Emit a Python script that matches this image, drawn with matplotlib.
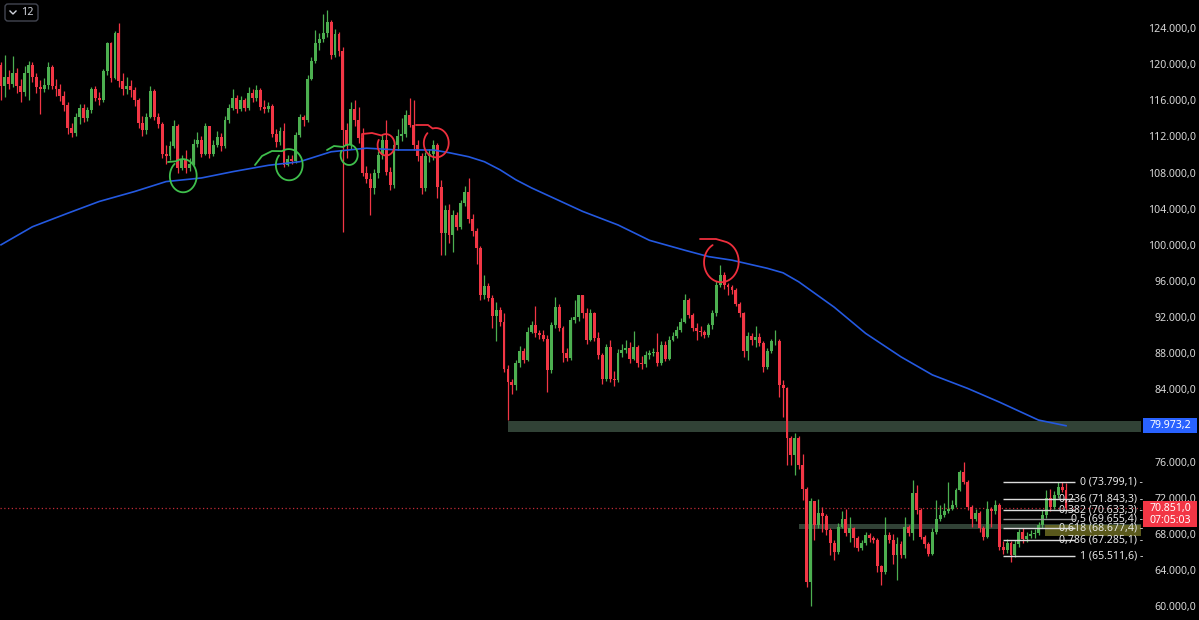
import matplotlib
matplotlib.use("Agg")
import matplotlib.pyplot as plt
from matplotlib import transforms
from matplotlib.patches import Rectangle, FancyBboxPatch
import numpy as np

# ---------------- data (prices in thousands USD, daily candles) ----------------
first_open = 119.9
closes = [
    117.6, 118.6, 117.8, 119.0, 117.6, 116.9, 119.0, 119.9, 118.6, 117.5,
    117.3, 117.7, 119.7, 117.6, 117.3, 116.5, 115.5, 112.9, 112.4, 114.2,
    115.2, 114.0, 114.9, 117.3, 116.3, 116.0, 119.2, 122.3, 118.5, 123.4,
    118.1, 117.2, 117.6, 117.1, 116.0, 113.5, 112.7, 114.2, 117.0, 114.2,
    113.4, 110.0, 109.8, 110.9, 113.2, 108.5, 109.4, 108.5, 109.0, 111.2,
    111.6, 110.1, 113.1, 110.0, 111.1, 111.9, 110.9, 113.8, 115.1, 116.2,
    115.0, 116.0, 115.1, 116.8, 116.2, 117.1, 115.3, 115.0, 115.4, 112.3,
    111.4, 112.6, 108.8, 109.5, 109.3, 112.2, 114.1, 113.8, 118.4, 120.4,
    122.3, 122.8, 123.4, 124.7, 121.0, 123.3, 121.4, 112.7, 111.0, 115.0,
    113.8, 111.8, 108.0, 107.3, 106.3, 107.9, 109.9, 111.6, 108.1, 106.6,
    111.0, 112.0, 112.3, 114.4, 113.3, 111.0, 109.8, 106.3, 109.8, 110.1,
    111.0, 106.4, 101.3, 103.9, 101.1, 103.3, 102.0, 104.6, 105.9, 102.9,
    101.5, 99.6, 94.4, 95.4, 94.1, 92.1, 92.8, 91.5, 86.3, 84.8,
    84.5, 86.9, 88.2, 87.3, 90.4, 91.1, 90.2, 90.0, 89.6, 86.1,
    91.1, 93.1, 90.8, 88.0, 87.5, 91.7, 92.0, 94.4, 92.4, 89.5,
    92.4, 89.7, 87.8, 85.2, 88.7, 85.2, 85.0, 88.0, 88.4, 88.6,
    87.4, 88.7, 86.9, 86.8, 87.8, 88.0, 88.1, 86.9, 88.9, 87.4,
    89.5, 89.9, 90.6, 91.5, 93.9, 92.2, 90.8, 90.5, 90.3, 90.0,
    91.1, 92.4, 95.6, 96.7, 95.5, 95.3, 95.0, 93.5, 92.4, 88.2,
    89.9, 89.5, 89.8, 89.1, 86.5, 88.2, 89.3, 89.4, 84.5, 84.1,
    78.6, 76.7, 78.6, 75.6, 73.0, 62.7, 71.6, 69.0, 70.3, 70.0,
    68.4, 67.0, 66.0, 68.8, 69.7, 68.1, 68.6, 67.5, 66.4, 67.0,
    67.9, 67.5, 67.3, 64.4, 63.8, 67.9, 67.3, 65.7, 66.9, 65.7,
    68.8, 68.1, 72.5, 70.6, 67.7, 66.9, 65.8, 68.2, 69.7, 70.1,
    70.5, 70.8, 71.2, 72.9, 74.9, 73.8, 71.0, 69.7, 70.3, 68.6,
    67.7, 70.8, 70.5, 71.2, 66.5, 66.2, 67.0, 65.7, 66.9, 68.2,
    67.4, 67.8, 68.0, 68.1, 69.0, 70.1, 72.0, 71.0, 72.3, 73.2,
    72.9, 70.851,
]
highs = [
    120.2, 121.0, 119.3, 120.9, 119.6, 118.3, 119.8, 120.4, 120.2, 119.0,
    118.2, 118.5, 120.2, 119.9, 118.4, 117.8, 117.0, 115.8, 113.5, 114.6,
    115.6, 115.6, 115.3, 117.5, 117.6, 116.9, 119.5, 122.5, 122.4, 123.7,
    124.5, 119.0, 118.6, 118.2, 117.5, 116.2, 114.3, 114.6, 117.6, 117.3,
    114.6, 113.6, 111.0, 111.5, 113.8, 113.4, 109.9, 110.5, 109.6, 111.7,
    112.5, 112.0, 113.5, 113.2, 111.6, 112.6, 112.4, 114.3, 115.6, 117.3,
    116.6, 116.5, 116.3, 117.5, 117.2, 117.7, 117.4, 116.0, 115.8, 115.6,
    112.8, 113.0, 113.5, 109.9, 109.9, 112.5, 114.5, 114.4, 118.8, 120.8,
    123.8, 123.4, 125.6, 126.0, 124.9, 123.9, 123.6, 121.9, 113.5, 115.8,
    116.0, 115.3, 112.9, 108.7, 108.0, 108.4, 110.4, 112.3, 113.8, 108.6,
    111.5, 112.8, 114.0, 114.9, 116.2, 116.0, 111.6, 110.2, 110.3, 110.6,
    111.6, 111.3, 107.2, 104.4, 104.5, 103.8, 103.6, 105.0, 106.5, 107.4,
    103.4, 101.9, 99.9, 96.7, 95.8, 94.4, 93.7, 93.1, 92.5, 86.7,
    85.2, 87.3, 88.8, 88.6, 90.9, 91.6, 93.2, 90.6, 90.6, 90.0,
    91.5, 94.2, 93.4, 91.0, 88.6, 92.0, 93.9, 94.5, 94.0, 93.0,
    92.9, 92.6, 90.4, 88.0, 89.0, 89.5, 86.0, 88.5, 89.0, 89.5,
    89.2, 90.5, 88.9, 87.7, 88.2, 88.4, 88.6, 90.2, 89.3, 89.3,
    89.9, 90.3, 91.0, 91.9, 94.6, 94.1, 92.4, 91.4, 91.0, 90.6,
    91.4, 92.8, 96.0, 97.8, 97.0, 95.8, 95.5, 95.2, 93.7, 92.6,
    90.4, 90.2, 91.0, 90.2, 89.3, 88.6, 89.6, 90.6, 89.6, 85.0,
    84.3, 78.8, 79.2, 78.8, 76.8, 73.2, 72.0, 71.6, 71.9, 71.0,
    70.2, 68.6, 67.3, 69.2, 70.5, 70.8, 69.9, 68.8, 67.8, 67.3,
    68.2, 68.1, 67.8, 67.5, 64.6, 69.9, 68.2, 68.0, 67.7, 67.2,
    69.9, 69.0, 74.0, 73.4, 70.9, 67.9, 67.1, 68.6, 71.7, 71.2,
    71.4, 73.8, 71.7, 73.1, 75.1, 76.0, 74.0, 71.2, 70.8, 70.5,
    68.9, 71.6, 71.0, 71.8, 71.4, 67.2, 67.4, 67.2, 67.3, 68.5,
    68.6, 68.2, 68.4, 68.5, 69.3, 70.6, 72.9, 73.0, 72.7, 73.8,
    73.8, 73.6,
]
lows = [
    116.0, 116.4, 117.2, 117.5, 116.8, 115.8, 116.5, 116.0, 118.0, 116.8,
    114.5, 116.9, 117.3, 117.2, 116.5, 115.9, 114.8, 112.3, 111.9, 112.0,
    113.4, 113.6, 113.7, 114.6, 115.9, 115.5, 115.8, 118.8, 118.0, 118.3,
    117.5, 116.6, 116.7, 116.4, 115.4, 112.9, 112.0, 112.3, 114.0, 113.8,
    112.9, 109.6, 109.0, 109.4, 110.7, 108.0, 108.3, 108.0, 108.2, 108.8,
    110.8, 109.7, 109.9, 109.6, 109.8, 110.8, 110.4, 110.7, 113.5, 114.9,
    114.6, 114.8, 114.8, 114.9, 115.8, 115.9, 114.9, 114.6, 114.7, 111.9,
    110.8, 111.1, 108.6, 108.7, 108.9, 109.1, 111.9, 113.2, 113.6, 118.2,
    120.1, 121.6, 122.4, 123.0, 120.6, 120.8, 120.9, 101.4, 109.6, 110.6,
    113.2, 111.3, 107.6, 106.8, 103.3, 105.6, 107.4, 109.5, 107.7, 106.1,
    106.3, 110.5, 111.5, 111.9, 113.0, 110.5, 109.3, 105.6, 106.0, 109.2,
    109.4, 105.2, 98.9, 98.9, 100.2, 99.2, 101.6, 101.7, 104.3, 102.4,
    101.0, 97.9, 93.9, 94.0, 93.8, 90.8, 89.3, 91.0, 85.9, 80.6,
    83.5, 83.9, 86.5, 86.9, 87.1, 90.2, 89.8, 89.6, 89.3, 83.7,
    85.8, 90.8, 90.5, 87.0, 87.1, 87.3, 91.3, 91.6, 91.9, 89.0,
    89.3, 89.3, 87.4, 84.6, 84.9, 84.8, 84.4, 84.8, 87.6, 88.0,
    86.9, 87.2, 86.5, 86.3, 86.5, 87.4, 87.7, 86.6, 86.7, 87.1,
    87.2, 89.3, 89.7, 90.3, 91.3, 91.9, 90.5, 89.5, 89.9, 89.7,
    89.8, 90.7, 92.1, 95.3, 95.1, 94.5, 94.6, 93.2, 92.0, 87.6,
    87.2, 88.9, 88.7, 88.8, 85.9, 86.3, 88.0, 88.9, 83.2, 80.9,
    75.6, 75.6, 74.5, 75.2, 71.8, 62.1, 60.0, 67.3, 68.6, 68.2,
    67.9, 65.7, 65.1, 65.8, 68.6, 67.8, 67.1, 66.6, 66.1, 66.2,
    66.8, 67.1, 67.0, 63.8, 62.3, 63.6, 67.0, 64.7, 62.9, 65.3,
    65.3, 67.8, 67.3, 70.2, 67.4, 66.4, 65.5, 65.7, 68.0, 69.4,
    69.9, 70.3, 70.7, 71.0, 72.7, 73.5, 70.6, 68.8, 69.4, 68.2,
    67.3, 67.5, 68.8, 70.2, 66.2, 65.8, 65.9, 64.9, 65.4, 66.6,
    67.0, 67.1, 67.5, 67.6, 67.9, 68.7, 69.8, 70.5, 70.8, 72.0,
    72.6, 70.6,
]

# 200-day moving average at candle indices
ma_idx = [0, 8, 17, 25, 34, 42, 51, 59, 68, 76, 84, 93, 101, 110, 114, 119, 123, 127,
          131, 135, 140, 148, 157, 165, 174, 180, 186, 195, 199, 203, 212, 220, 229,
          237, 246, 254, 264, 271]
ma_val = [100.0, 102.0, 103.5, 104.8, 105.9, 107.0, 107.4, 108.1, 108.8, 109.2, 110.3,
          110.7, 110.5, 110.5, 110.2, 109.75, 109.2, 108.3, 107.2, 106.3, 105.3, 103.7,
          102.2, 100.5, 99.4, 98.7, 98.3, 97.4, 96.9, 95.9, 93.1, 90.2, 87.6, 85.6,
          84.1, 82.6, 80.6, 79.9732]

# Fibonacci retracement
fib_top = 73799.1
fib_bottom = 65511.6
fib_ratios = [0, 0.236, 0.382, 0.5, 0.618, 0.786, 1]
fib_start, fib_end = 255.0, 273.3

# support / resistance zones (price bands, start index)
zones = [(79300, 80500, 129), (68500, 69060, 203)]

last_price = 70851.0
ma_last = 79973.2
countdown = "07:05:03"
yticks = [60000, 64000, 68000, 72000, 76000, 84000, 88000, 92000, 96000,
          100000, 104000, 108000, 112000, 116000, 120000, 124000]

# ---------------- helpers ----------------
def fmt(v):
    s = f"{v + 0.001:,.1f}"
    return s.replace(",", "X").replace(".", ",").replace("X", ".")

def fmt_ratio(r):
    if r in (0, 1):
        return str(int(r))
    return f"{r:.3f}".rstrip("0").rstrip(".").replace(".", ",")

W, H = 1199, 620
UP, DOWN = "#4caf50", "#f23645"
FONT = "Noto Sans"

fig = plt.figure(figsize=(W / 100, H / 100), dpi=100, facecolor="black")
ax = fig.add_axes([0, 0, 1141 / W, 1])
ax.set_facecolor("black")
ax.set_xlim(-0.254, 290.08)
ax.set_ylim(58470, 127100)
for s in ax.spines.values():
    s.set_visible(False)
ax.set_xticks([])

o = np.array([first_open] + closes[:-1]) * 1000
c = np.array(closes) * 1000
h = np.maximum(np.array(highs) * 1000, np.maximum(o, c))
l = np.minimum(np.array(lows) * 1000, np.minimum(o, c))
idx = np.arange(len(c))
col = np.where(c >= o, UP, DOWN)

# zones
for lo, hi, st in zones:
    ax.add_patch(Rectangle((st, lo), 300 - st, hi - lo, facecolor="#34463a",
                           edgecolor="none", alpha=0.95, zorder=1))
# olive highlight behind 0.618 label
ax.add_patch(Rectangle((265.6, 67750), 30, 1250, facecolor="#6b6a22",
                       edgecolor="none", alpha=0.85, zorder=1))

# candles
ax.vlines(idx, l, h, colors=col, linewidth=0.9, zorder=3)
body_lo = np.minimum(o, c)
body_h = np.maximum(np.abs(c - o), 90)
ax.bar(idx, body_h, bottom=body_lo, width=0.74, color=col, linewidth=0, zorder=4)

# moving average
ax.plot(ma_idx, np.array(ma_val) * 1000, color="#2459e0", linewidth=1.2, zorder=5)

# last price dotted line
ax.axhline(last_price, color=DOWN, linewidth=0.9, linestyle=(0, (1, 2)), alpha=0.8, zorder=2)

# fib levels
rng = fib_top - fib_bottom
blend = transforms.blended_transform_factory(fig.transFigure, ax.transData)
for r in fib_ratios:
    lvl = fib_top - r * rng
    lc = "#9a9a9a" if r == 0.5 else "#dcdcdc"
    ax.hlines(lvl, fib_start, fib_end, colors=lc, linewidth=1.0, zorder=6)
    lab = f"{fmt_ratio(r)} ({fmt(lvl)}) -"
    ax.text(1143 / W, lvl, lab, transform=blend, ha="right", va="center",
            color="#e6e6e6", fontsize=7.6, family=FONT, zorder=7)

# y axis labels
ax.yaxis.tick_right()
ax.set_yticks(yticks)
ax.set_yticklabels([fmt(v) for v in yticks])
ax.tick_params(axis="y", length=0, pad=39.6, labelsize=7.6, labelcolor="#d8d8d8")
for t in ax.get_yticklabels():
    t.set_horizontalalignment("right")
    t.set_fontfamily(FONT)

# price label boxes
ppx = (127100 - 58470) / H
ax.add_patch(Rectangle((1143 / W, ma_last - 7.5 * ppx), 54 / W, 15 * ppx, transform=blend,
                       facecolor="#2962ff", edgecolor="none", clip_on=False, zorder=8))
ax.text(1170 / W, ma_last, fmt(ma_last), transform=blend, ha="center", va="center",
        color="white", fontsize=7.6, family=FONT, zorder=9)
ax.add_patch(Rectangle((1143 / W, last_price - 19 * ppx), 54 / W, 26 * ppx, transform=blend,
                       facecolor=DOWN, edgecolor="none", clip_on=False, zorder=8))
ax.text(1170 / W, last_price, fmt(last_price), transform=blend, ha="center", va="center",
        color="white", fontsize=7.6, family=FONT, zorder=9)
ax.text(1170 / W, last_price - 12 * ppx, countdown, transform=blend, ha="center", va="center",
        color="white", fontsize=7.6, family=FONT, zorder=9)

# hand-drawn loops (pixel positions of the annotations, converted to data)
def px2data(pts):
    pts = np.asarray(pts, dtype=float)
    disp = np.column_stack([pts[:, 0], H - pts[:, 1]])
    return ax.transData.inverted().transform(disp)

def loop(cx, cy, rx, ry, a0, sweep, lead, color):
    a = np.radians(np.linspace(a0, a0 + sweep, 160))
    shrink = np.linspace(1.0, 0.93, a.size)
    pts = np.column_stack([cx + rx * shrink * np.cos(a), cy + ry * shrink * np.sin(a)])
    if lead:
        pts = np.vstack([np.asarray(lead, dtype=float), pts])
    d = px2data(pts)
    ax.plot(d[:, 0], d[:, 1], color=color, linewidth=1.3, solid_capstyle="round",
            solid_joinstyle="round", zorder=10)

G, R = "#3fbf4c", "#ee2f3d"
loop(183, 176, 14, 17, -120, 350, [(168, 162)], G)
loop(289, 165, 14, 16, -120, 340, [(255, 165), (262, 156), (272, 151)], G)
loop(349, 155, 9, 10.5, -130, 335, [(327, 150), (334, 146)], G)
loop(386, 145, 9, 11, -120, 330, [(362, 141), (362, 134), (372, 133)], R)
loop(436, 143, 13, 15, -105, 330, [(416, 125), (428, 125)], R)
loop(721, 262, 18, 21, -80, 320, [(700, 239), (716, 239)], R)

# top-left interval widget
ident = transforms.IdentityTransform()
fig.patches.append(FancyBboxPatch((5, H - 21), 33, 17, boxstyle="round,pad=0,rounding_size=3",
                                  facecolor="black", edgecolor="#434651", linewidth=1,
                                  transform=ident, figure=fig))
fig.lines.append(plt.Line2D([10, 13, 16], [H - 11, H - 14, H - 11], color="#d1d4dc",
                            linewidth=1.0, transform=ident, figure=fig))
fig.text(21 / W, 1 - 12.5 / H, "12", color="#d1d4dc", fontsize=7.8, family=FONT,
         ha="left", va="center")

fig.savefig("out.png", dpi=100, facecolor="black")
